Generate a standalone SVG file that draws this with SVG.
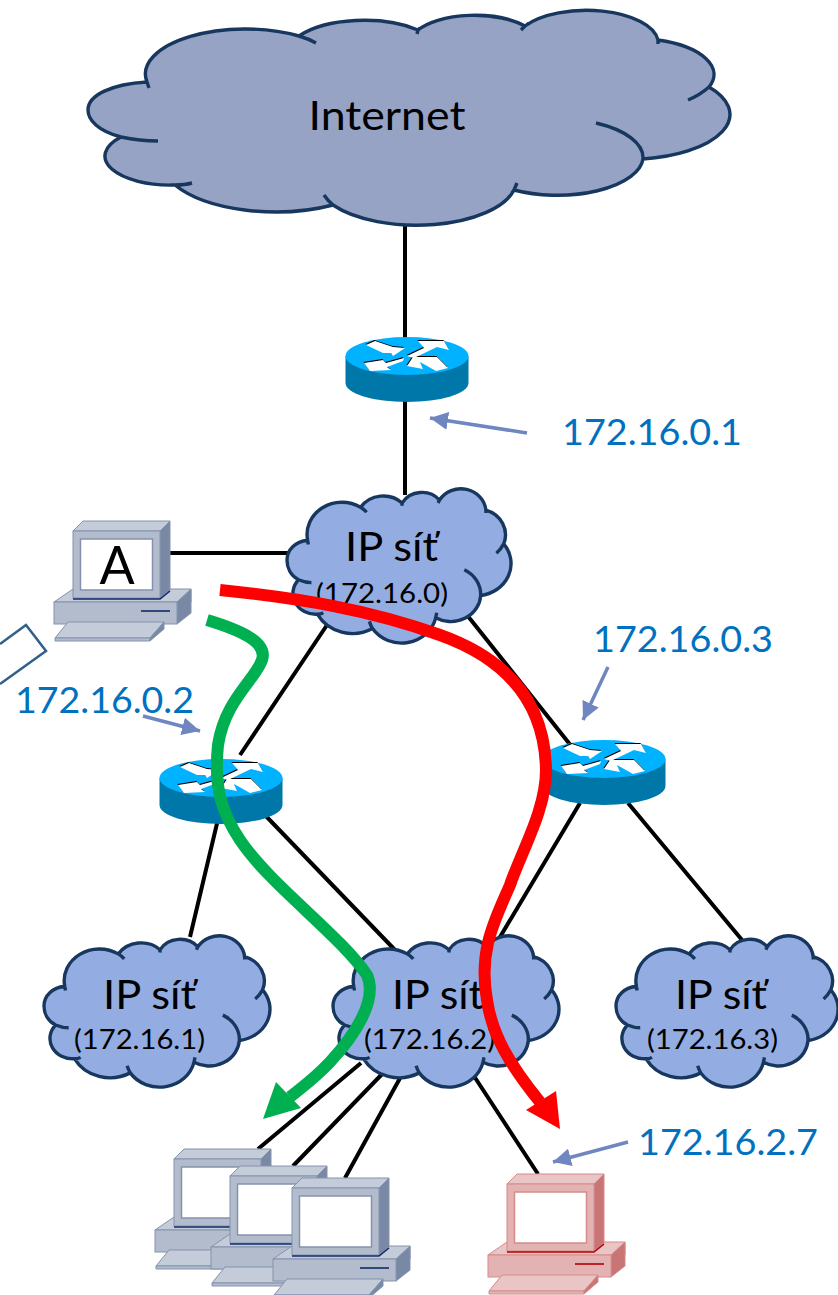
<svg xmlns="http://www.w3.org/2000/svg" width="838" height="1295" viewBox="0 0 838 1295">
<style>
text{font-family:Lato,"Noto Sans","Liberation Sans",sans-serif;text-anchor:middle;fill:#000}
.ip{fill:#0070c0;font-size:36px}
.net{font-size:40px}
.sub{font-size:27px}
.wire{stroke:#000;stroke-width:4;fill:none}
.route{fill:none;stroke-width:12;stroke-linejoin:round}
.hint{stroke:#6f86c0;stroke-width:3.500;fill:none;marker-end:url(#hintHead)}
.cfill{stroke:none}
.cline{fill:none;stroke:#17375e;stroke-width:3.400;vector-effect:non-scaling-stroke}
.small{fill:#93ade3}
.big{fill:#96a3c4}
.blue{--f:#b2bccd;--t:#c5ccd9;--s:#7888a5;--l:#8492ad;--d:#0f2b6b}
.red{--f:#e3b3b3;--t:#e9c5c5;--s:#c97575;--l:#d68a8a;--d:#b00000}
.pf{fill:var(--f);stroke:var(--l);stroke-width:1}
.pt{fill:var(--t);stroke:var(--l);stroke-width:1}
.ps{fill:var(--s);stroke:var(--l);stroke-width:1}
.pd{fill:none;stroke:var(--d);stroke-width:1.600}
</style>
<defs>
<marker id="hintHead" markerUnits="userSpaceOnUse" markerWidth="20" markerHeight="18" refX="18" refY="9" orient="auto"><path d="M0,0L18,9L0,18Z" fill="#6f86c0"/></marker>
<g id="cloud">
<path class="cfill" d="M147,82A100,45 0 0 1 299,36A79,36 0 0 1 418,30A65,29 0 0 1 525,26A72,33 0 0 1 658,40A79,36 0 0 1 709,87A101,45 0 0 1 643,159A86,39 0 0 1 514,190A100,45 0 0 1 333,205A115,52 0 0 1 175,185A65,29 0 0 1 121,137C98,131 88,120 88,110C88,95 112,84 147,82Z"/>
<path class="cline" d="M147,82A100,45 0 0 1 299,36Q309,39 316,43M299,36A79,36 0 0 1 418,30L420,28M418,30L417,34M418,30A65,29 0 0 1 525,26L529,23M525,26L521,30M525,26A72,33 0 0 1 658,40L658,44M658,40A79,36 0 0 1 709,87Q700,95 688,100M709,87A101,45 0 0 1 643,159M596,123A86,39 0 0 1 643,159A86,39 0 0 1 514,190L512,193M517,183L514,190A100,45 0 0 1 333,205Q328,201 324,195M333,205A115,52 0 0 1 175,185Q185,185 192,183M175,185A65,29 0 0 1 121,137Q140,141 158,141M121,137C98,131 88,120 88,110C88,95 112,84 147,82L149,88"/>
</g>
<g id="routerArrows">
<path d="M-41,-11L-32,-15L-14,-9L-2,-8L-14,0L-16,-3L-24,-3Z"/>
<path d="M0,0L17,-8L11,-15L37,-15L42,-6L30,-9L7,2Z"/>
<path d="M-3,2L-21,7L-24,4L-43,7L-37,15L-16,14L-20,11L-4,5Z"/>
<path d="M0,10L6,1L30,1L41,12L29,15L13,6L16,13Z"/>
</g>
<g id="routerBody">
<path d="M0,0V27A61.500,19 0 0 0 123,27V0Z" fill="#0077a9" transform="translate(-61.500,0)"/>
<ellipse cx="0" cy="0" rx="61.500" ry="19" fill="#00b2ff"/>
<use href="#routerArrows" fill="#000" x="-.6" y="-.9"/>
<use href="#routerArrows" fill="#fff"/>
</g>
<g id="pc">
<path class="pt" d="M-19,71L0,58H118V71Z"/>
<path class="ps" d="M104,71L118,58V82L104,93Z"/>
<rect class="pf" x="-19" y="71" width="123" height="22"/>
<path class="pd" d="M68,80H97"/>
<path class="pt" d="M-18,107L-5,91H91L77,107Z"/>
<path class="pf" d="M-18,107H77V110H-18Z"/>
<path class="ps" d="M77,107L91,91V98L77,110Z"/>
<path class="pt" d="M0,0L10,-10H97L87,0Z"/>
<path class="ps" d="M87,0L97,-10V59L87,67Z"/>
<rect class="pf" x="0" y="0" width="87" height="67"/>
<rect x="7.500" y="8" width="72" height="51" fill="#fff" stroke="var(--l)" stroke-width="1.500"/>
<path class="pd" d="M0,68H87L97,60"/>
</g>
</defs>
<g id="connectors">
<path class="wire" d="M405,225V340M405,400V495M170,553H290M327,625L240,755M467,615L572,747M219,815L190,937M262,812L395,950M580,803L500,937M628,803L742,940M361,1063L258,1149M386,1070L293,1166M410,1060L345,1178M470,1070L538,1174"/>
</g>
<g id="internet" class="big"><use href="#cloud"/><text x="387" y="130" class="net" textLength="157" lengthAdjust="spacingAndGlyphs">Internet</text></g>
<g id="router1"><use href="#routerBody" x="407" y="356"/></g>
<g id="net0" class="small"><use href="#cloud" transform="translate(287,490) scale(.349,.718) translate(-88,-12)"/><text x="391.500" y="561" class="net" textLength="93" lengthAdjust="spacingAndGlyphs">IP síť</text><text x="382" y="603" class="sub" textLength="132" lengthAdjust="spacingAndGlyphs">(172.16.0)</text></g>
<g id="pcA" class="blue"><use href="#pc" x="73" y="531"/><text x="117" y="584" font-size="52">A</text></g>
<g id="tablet"><path d="M0,644L26,625L46,651L0,684" fill="#fff" stroke="#2f5f8a" stroke-width="2.500"/></g>
<g id="router2"><use href="#routerBody" x="221" y="778"/></g>
<g id="router3"><use href="#routerBody" x="604" y="759"/></g>
<g id="net1" class="small"><use href="#cloud" transform="translate(44,937) scale(.352,.704) translate(-88,-12)"/><text x="149.500" y="1009" class="net" textLength="93" lengthAdjust="spacingAndGlyphs">IP síť</text><text x="139.500" y="1049" class="sub" textLength="131" lengthAdjust="spacingAndGlyphs">(172.16.1)</text></g>
<g id="net2" class="small"><use href="#cloud" transform="translate(333,937) scale(.352,.704) translate(-88,-12)"/><text x="438" y="1009" class="net" textLength="92" lengthAdjust="spacingAndGlyphs">IP síť</text><text x="429.500" y="1049" class="sub" textLength="131" lengthAdjust="spacingAndGlyphs">(172.16.2)</text></g>
<g id="net3" class="small"><use href="#cloud" transform="translate(616,937) scale(.346,.704) translate(-88,-12)"/><text x="721" y="1009" class="net" textLength="92" lengthAdjust="spacingAndGlyphs">IP síť</text><text x="712.500" y="1049" class="sub" textLength="131" lengthAdjust="spacingAndGlyphs">(172.16.3)</text></g>
<g id="pc1" class="blue"><use href="#pc" x="174" y="1159"/></g>
<g id="pc2" class="blue"><use href="#pc" x="230" y="1176"/></g>
<g id="pc3" class="blue"><use href="#pc" x="292" y="1188"/></g>
<g id="pc4" class="red"><use href="#pc" x="507" y="1184"/></g>
<g id="labels">
<text class="ip" x="652" y="445" textLength="180" lengthAdjust="spacingAndGlyphs">172.16.0.1</text>
<text class="ip" x="104.500" y="713" textLength="179" lengthAdjust="spacingAndGlyphs">172.16.0.2</text>
<text class="ip" x="683" y="652" textLength="180" lengthAdjust="spacingAndGlyphs">172.16.0.3</text>
<text class="ip" x="728" y="1155" textLength="180" lengthAdjust="spacingAndGlyphs">172.16.2.7</text>
</g>
<g id="hints">
<path class="hint" d="M527,433L430,418"/>
<path class="hint" d="M143,716L200,731"/>
<path class="hint" d="M608,667L583,720"/>
<path class="hint" d="M628,1142L553,1162"/>
</g>
<g id="routes">
<path class="route" stroke="#00b050" d="M207,620C240,630 268,642 262,660C255,680 225,700 218,745C214,785 220,810 240,840C270,885 340,935 367,975C378,1000 355,1035 330,1062C315,1078 305,1085 290,1097"/>
<path d="M263,1119L276,1082L301,1108Z" fill="#00b050"/>
<path class="route" stroke="#ff0000" d="M220,590C300,598 370,610 440,635C510,660 545,705 546,770C546,810 522,850 510,885C495,920 478,950 487,1000C492,1035 510,1065 540,1102"/>
<path d="M560,1129L526,1110L556,1091Z" fill="#ff0000"/>
</g>
</svg>
